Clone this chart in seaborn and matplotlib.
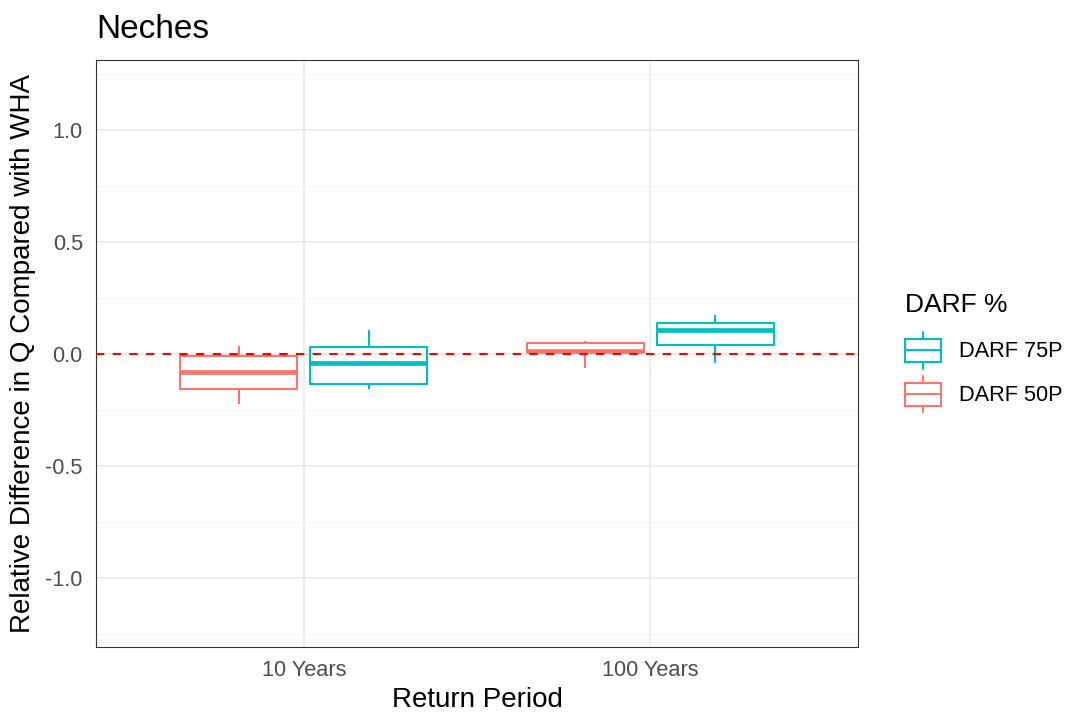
import numpy as np
import pandas as pd
import matplotlib
matplotlib.use("Agg")
import matplotlib.pyplot as plt
import seaborn as sns
from matplotlib.legend_handler import HandlerBase
from matplotlib.lines import Line2D
from matplotlib.patches import Rectangle

periods = ["10 Years", "100 Years"]
groups = ["DARF 50P", "DARF 75P"]
legend_order = ["DARF 75P", "DARF 50P"]
colors = {"DARF 50P": "#F8766D", "DARF 75P": "#00BFC4"}

# five-number summaries (min, q1, median, q3, max)
darf50_10yr = [-0.223, -0.160, -0.083, -0.009, 0.036]
darf75_10yr = [-0.160, -0.134, -0.040, 0.031, 0.107]
darf50_100yr = [-0.066, 0.006, 0.013, 0.048, 0.058]
darf75_100yr = [-0.043, 0.039, 0.103, 0.138, 0.170]

rows = []
for period, group, vals in [("10 Years", "DARF 50P", darf50_10yr),
                            ("10 Years", "DARF 75P", darf75_10yr),
                            ("100 Years", "DARF 50P", darf50_100yr),
                            ("100 Years", "DARF 75P", darf75_100yr)]:
    for v in vals:
        rows.append({"period": period, "darf": group, "diff": v})
df = pd.DataFrame(rows)

sns.set_style("white")
plt.rcParams['font.family'] = ['Liberation Sans', 'DejaVu Sans']
plt.rcParams['text.color'] = 'black'

fig = plt.figure(figsize=(10.7, 7.15), dpi=100)
ax = fig.add_axes([0.0897, 0.095, 0.7123, 0.821])

sns.boxplot(data=df, x="period", y="diff", hue="darf", order=periods, hue_order=groups,
            palette=colors, fill=False, width=0.75, gap=0.1, whis=(0, 100),
            showcaps=False, linewidth=1.5, medianprops=dict(linewidth=3.4),
            legend=False, ax=ax)

ax.axhline(0, color="#FF0000", linestyle=(0, (4, 4)), linewidth=1.5, zorder=5)

ax.set_xlim(-0.6, 1.6)
ax.set_ylim(-1.31, 1.31)
ax.set_yticks([-1.0, -0.5, 0.0, 0.5, 1.0])
ax.set_yticklabels(["-1.0", "-0.5", "0.0", "0.5", "1.0"])
ax.set_yticks([-1.25, -0.75, -0.25, 0.25, 0.75, 1.25], minor=True)
ax.grid(True, which="major", color="#EBEBEB", linewidth=1.3)
ax.grid(True, which="minor", axis="y", color="#F4F4F4", linewidth=0.8)
ax.set_axisbelow(True)
for s in ax.spines.values():
    s.set_color("#333333")
    s.set_linewidth(0.8)
ax.tick_params(axis="both", which="major", length=5, width=0.8, color="#333333",
               labelcolor="#4D4D4D", labelsize=15.7, pad=4.5)
ax.tick_params(axis="both", which="minor", length=0)

ax.set_xlabel("Return Period", fontsize=20, color="black", labelpad=4)
ax.set_ylabel("Relative Difference in Q Compared with WHA", fontsize=20, color="black", labelpad=7)
ax.set_title("Neches", loc="left", fontsize=24, pad=16, color="black")


class BoxHandler(HandlerBase):
    # legend key drawn like a small boxplot glyph
    def create_artists(self, legend, orig_handle, xdescent, ydescent, width, height, fontsize, trans):
        c = orig_handle.get_color()
        x0, y0 = -xdescent, -ydescent
        cx = x0 + width / 2
        box = Rectangle((x0, y0 + 0.2 * height), width, 0.6 * height,
                        facecolor="white", edgecolor=c, linewidth=1.5, transform=trans)
        med = Line2D([x0, x0 + width], [y0 + 0.5 * height] * 2,
                     color=c, linewidth=1.5, transform=trans)
        wt = Line2D([cx, cx], [y0 + 0.8 * height, y0 + 0.98 * height], color=c, linewidth=1.5, transform=trans)
        wb = Line2D([cx, cx], [y0 + 0.02 * height, y0 + 0.2 * height], color=c, linewidth=1.5, transform=trans)
        return [wt, wb, box, med]


handles = [Line2D([], [], color=colors[g]) for g in legend_order]
leg = fig.legend(handles, legend_order, handler_map={Line2D: BoxHandler()},
                 title="DARF %", loc="upper left", bbox_to_anchor=(0.838, 0.602),
                 frameon=False, fontsize=15.7, title_fontsize=19, handlelength=1.65,
                 handleheight=2.3, handletextpad=0.83, labelspacing=0.275,
                 borderaxespad=0)
leg._legend_box.align = "left"
leg._legend_box.sep = 0.275 * 15.7 + 5.8

fig.savefig("out.png", dpi=100)
